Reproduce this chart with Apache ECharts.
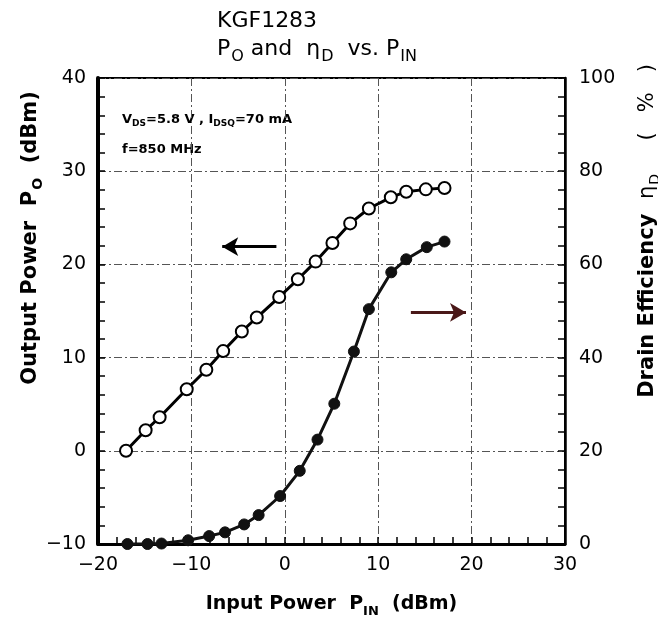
<!DOCTYPE html>
<html>
<head>
<meta charset="utf-8">
<script src="https://cdn.jsdelivr.net/npm/echarts@6/dist/echarts.min.js"></script>
<style>
html,body{margin:0;padding:0;background:#fff;}
#c{width:658px;height:625px;}
</style>
</head>
<body>
<div id="c"></div>
<script>
// Input power (dBm) for each measured point
const pinPo  = [-17, -14.9, -13.4, -10.5, -8.4, -6.6, -4.6, -3.0, -0.6, 1.4, 3.3, 5.1, 7.0, 9.0, 11.35, 13.0, 15.1, 17.1];
// Output power Po (dBm)
const po     = [0, 2.2, 3.6, 6.6, 8.7, 10.7, 12.8, 14.3, 16.5, 18.4, 20.3, 22.3, 24.4, 26.0, 27.2, 27.8, 28.05, 28.2];
// Input power for efficiency points
const pinEff = [-16.85, -14.7, -13.2, -10.35, -8.1, -6.4, -4.35, -2.8, -0.5, 1.6, 3.5, 5.3, 7.4, 9.0, 11.4, 13.0, 15.2, 17.1];
// Drain efficiency (%)
const eff    = [0, 0, 0.1, 0.8, 1.7, 2.5, 4.2, 6.2, 10.3, 15.7, 22.4, 30.1, 41.3, 50.4, 58.3, 61.1, 63.7, 64.9];

// Axis ranges / ticks
const xRange = [-20, 30, 10];
const yLeftRange = [-10, 40, 10];
const yRightRange = [0, 100, 20];

// Arrow annotations (data coords)
const arrowPo  = [[-0.9, 21.9], [-6.7, 21.9]];
const arrowEff = [[13.5, 49.7], [19.4, 49.7]];

const FONT = 'DejaVu Sans';
const fmt = v => String(v).replace('-', '\u2212');

const chart = echarts.init(document.getElementById('c'));
const gridDash = {color: '#555', width: 1, type: [8, 3, 2, 3]};

const option = {
  animation: false,
  backgroundColor: '#fff',
  title: [
    {text: 'KGF1283', left: 212, top: 5,
     textStyle: {fontFamily: FONT, fontSize: 22, fontWeight: 'normal', color: '#000'}},
    {text: '{a|P}{s|O}{a| and  η}{s|D}{a|  vs. P}{s|IN}', left: 212, top: 29,
     textStyle: {fontWeight: 'normal', rich: {
       a: {fontFamily: FONT, fontSize: 22, fontWeight: 'normal', color: '#000', lineHeight: 26, verticalAlign: 'bottom'},
       s: {fontFamily: FONT, fontSize: 16, fontWeight: 'normal', color: '#000', lineHeight: 26, verticalAlign: 'bottom', padding: [0, 0, -5, 1]}
     }}}
  ],
  grid: {left: 98, right: 93, top: 78, bottom: 81, show: true, borderColor: '#000', borderWidth: 2, containLabel: false},
  xAxis: {
    type: 'value', min: xRange[0], max: xRange[1], interval: xRange[2],
    name: '{b|Input Power  P}{s|IN}{b|  (dBm)}', nameLocation: 'middle', nameGap: 46,
    nameTextStyle: {rich: {
      b: {fontFamily: FONT, fontSize: 19, fontWeight: 'bold', color: '#000', lineHeight: 24, verticalAlign: 'bottom'},
      s: {fontFamily: FONT, fontSize: 13, fontWeight: 'bold', color: '#000', lineHeight: 24, verticalAlign: 'bottom', padding: [0, 0, -4, 0]}
    }},
    axisLine: {show: true, onZero: false, lineStyle: {color: '#000', width: 3}},
    axisTick: {show: true, inside: true, length: 7, lineStyle: {color: '#000', width: 1.5}},
    minorTick: {show: true, splitNumber: 5, length: 7, lineStyle: {color: '#000', width: 1.5}},
    axisLabel: {formatter: fmt, fontFamily: FONT, fontSize: 19, color: '#000', margin: 12},
    splitLine: {show: true, lineStyle: gridDash}
  },
  yAxis: [
    {
      type: 'value', min: yLeftRange[0], max: yLeftRange[1], interval: yLeftRange[2],
      position: 'left',
      axisLine: {show: true, onZero: false, lineStyle: {color: '#000', width: 4}},
      axisTick: {show: true, inside: true, length: 7, lineStyle: {color: '#000', width: 1.5}},
      minorTick: {show: true, splitNumber: 5, length: 7, lineStyle: {color: '#000', width: 1.5}},
      axisLabel: {formatter: fmt, fontFamily: FONT, fontSize: 19, color: '#000', margin: 12},
      splitLine: {show: true, lineStyle: gridDash}
    },
    {
      type: 'value', min: yRightRange[0], max: yRightRange[1], interval: yRightRange[2],
      position: 'right',
      axisLine: {show: true, onZero: false, lineStyle: {color: '#000', width: 2.5}},
      axisTick: {show: true, inside: true, length: 7, lineStyle: {color: '#000', width: 1.5}},
      minorTick: {show: true, splitNumber: 5, length: 7, lineStyle: {color: '#000', width: 1.5}},
      axisLabel: {formatter: fmt, fontFamily: FONT, fontSize: 19, color: '#000', margin: 14},
      splitLine: {show: false}
    }
  ],
  series: [
    {
      type: 'line', name: 'Po', yAxisIndex: 0,
      data: pinPo.map((x, i) => [x, po[i]]),
      symbol: 'circle', symbolSize: 12, showSymbol: true,
      lineStyle: {color: '#000', width: 3},
      itemStyle: {color: '#fff', borderColor: '#000', borderWidth: 2},
      z: 3,
      markLine: {
        silent: true, animation: false, symbol: ['none', 'arrow'], symbolSize: [14, 16],
        label: {show: false},
        lineStyle: {color: '#000', width: 3, type: 'solid'},
        data: [[{coord: arrowPo[0]}, {coord: arrowPo[1]}]]
      }
    },
    {
      type: 'line', name: 'Eff', yAxisIndex: 1,
      data: pinEff.map((x, i) => [x, eff[i]]),
      symbol: 'circle', symbolSize: 11, showSymbol: true,
      lineStyle: {color: '#111', width: 3},
      itemStyle: {color: '#111', borderColor: '#111', borderWidth: 1},
      z: 2,
      markLine: {
        silent: true, animation: false, symbol: ['none', 'arrow'], symbolSize: [14, 16],
        label: {show: false},
        lineStyle: {color: '#4a1818', width: 3, type: 'solid'},
        data: [[{coord: arrowEff[0]}, {coord: arrowEff[1]}]]
      }
    }
  ],
  graphic: [
    {
      type: 'text', x: 28, y: 238, rotation: Math.PI / 2,
      style: {
        text: '{b|Output Power  P}{s|O}{b|  (dBm)}',
        align: 'center', verticalAlign: 'middle',
        rich: {
          b: {fontFamily: FONT, fontSize: 21, fontWeight: 'bold', fill: '#000', lineHeight: 26, verticalAlign: 'bottom'},
          s: {fontFamily: FONT, fontSize: 14, fontWeight: 'bold', fill: '#000', lineHeight: 26, verticalAlign: 'bottom', padding: [0, 0, -4, 1]}
        }
      }
    },
    {
      type: 'text', x: 645, y: 231, rotation: Math.PI / 2,
      style: {
        text: '{b|Drain Efficiency  }{r|η}{s|D}{r|     (   %   )}',
        align: 'center', verticalAlign: 'middle',
        rich: {
          b: {fontFamily: FONT, fontSize: 21, fontWeight: 'bold', fill: '#000', lineHeight: 26, verticalAlign: 'bottom'},
          r: {fontFamily: FONT, fontSize: 21, fontWeight: 'normal', fill: '#000', lineHeight: 26, verticalAlign: 'bottom'},
          s: {fontFamily: FONT, fontSize: 14, fontWeight: 'normal', fill: '#000', lineHeight: 26, verticalAlign: 'bottom', padding: [0, 0, -4, 1]}
        }
      }
    },
    {
      type: 'text', x: 122, y: 118,
      style: {
        text: '{b|V}{s|DS}{b|=5.8 V , I}{s|DSQ}{b|=70 mA}',
        align: 'left', verticalAlign: 'middle',
        rich: {
          b: {fontFamily: FONT, fontSize: 13, fontWeight: 'bold', fill: '#000', lineHeight: 16, verticalAlign: 'bottom'},
          s: {fontFamily: FONT, fontSize: 9, fontWeight: 'bold', fill: '#000', lineHeight: 16, verticalAlign: 'bottom', padding: [0, 0, -2, 0]}
        }
      }
    },
    {
      type: 'text', x: 122, y: 150,
      style: {
        text: 'f=850 MHz', align: 'left', verticalAlign: 'middle',
        fontFamily: FONT, fontSize: 13, fontWeight: 'bold', fill: '#000'
      }
    }
  ]
};
chart.setOption(option);
</script>
</body>
</html>
